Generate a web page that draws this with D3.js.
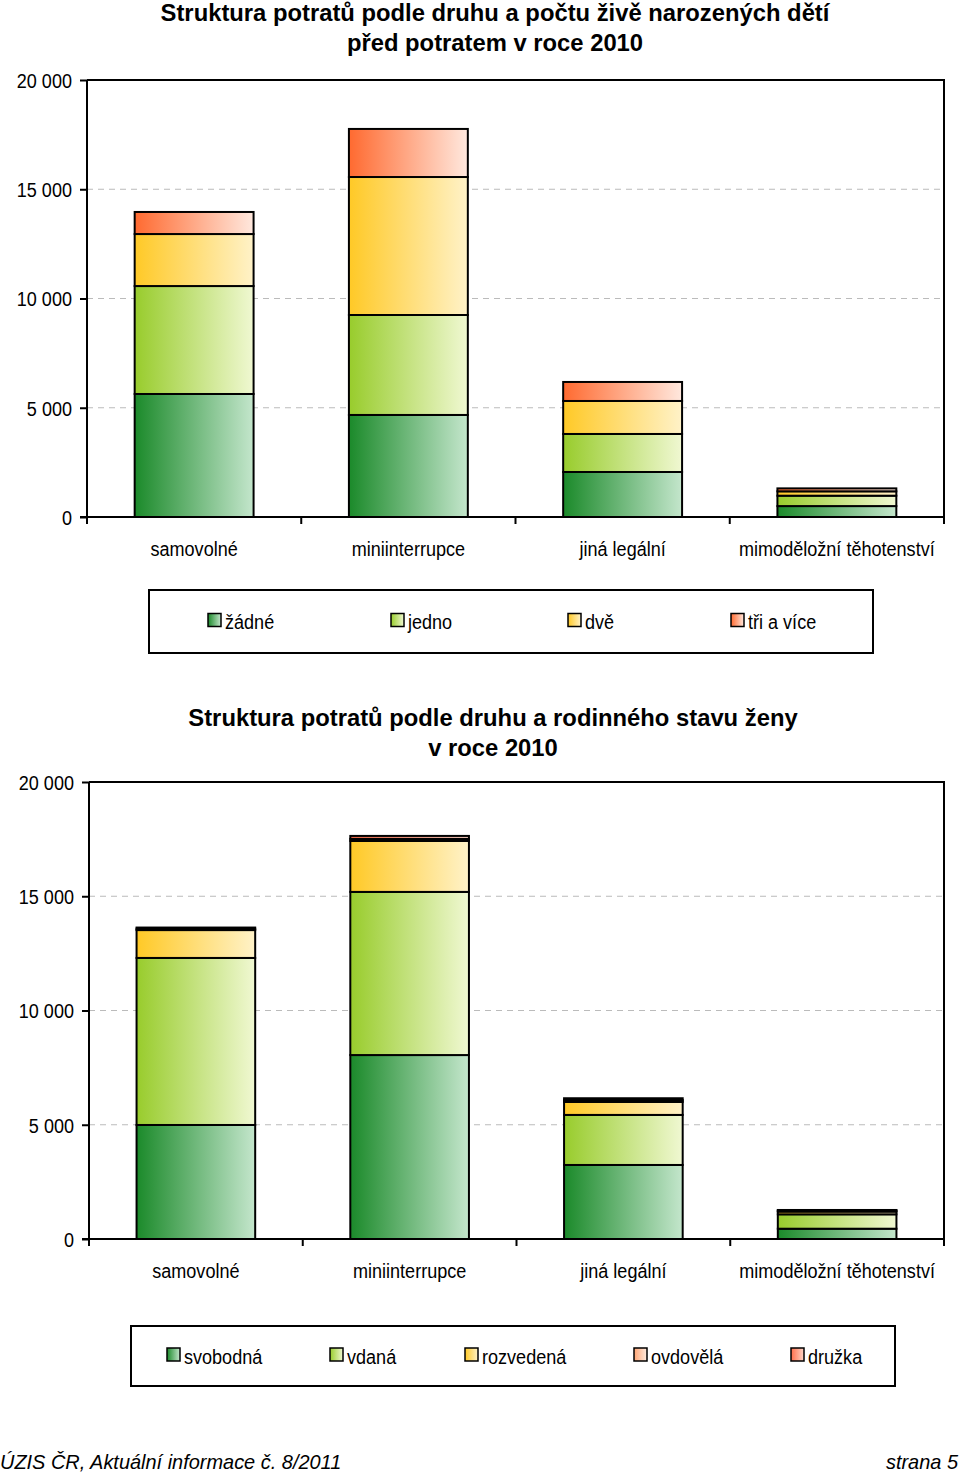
<!DOCTYPE html>
<html><head><meta charset="utf-8">
<script src="https://cdnjs.cloudflare.com/ajax/libs/d3/7.8.5/d3.min.js"></script>
<style>
body{margin:0;background:#fff;}
svg{display:block;}
</style></head>
<body>
<script>
const categories = ["samovolné", "miniinterrupce", "jiná legální", "mimoděložní těhotenství"];
const yTicks = [0, 5000, 10000, 15000, 20000];

// Chart 1: number of live-born children
const series1 = ["žádné", "jedno", "dvě", "tři a více"];
const zadne = [5630, 4670, 2060, 500];
const jedno = [4940, 4575, 1740, 475];
const dve   = [2380, 6315, 1510, 200];
const triAVice = [1010, 2200, 870, 135];

// Chart 2: marital status
const series2 = ["svobodná", "vdaná", "rozvedená", "ovdovělá", "družka"];
const svobodna = [4990, 8050, 3240, 450];
const vdana    = [7310, 7140, 2190, 630];
const rozvedena= [1220, 2230, 570, 120];
const ovdovela = [60, 90, 80, 40];
const druzka   = [50, 130, 80, 30];

const title1 = ["Struktura potratů podle druhu a počtu živě narozených dětí", "před potratem v roce 2010"];
const title2 = ["Struktura potratů podle druhu a rodinného stavu ženy", "v roce 2010"];

const W = 960, H = 1474;
const svg = d3.select("body").append("svg").attr("width", W).attr("height", H);
const defs = svg.append("defs");
const SANS = "'Liberation Sans',Arial,sans-serif";
const FS = 21, SX = 0.86;

// horizontally condense a text element around its own x anchor
function condense(sel, s) {
  sel.each(function() {
    const t = d3.select(this);
    const tx = +t.attr("x") || 0;
    t.attr("transform", `translate(${tx},0) scale(${s},1) translate(${-tx},0)`);
  });
}

const gradSpecs = {
  g0: ["#1b8a2a", "#c4e6cc"],
  g1: ["#98cc2c", "#f0f8d2"],
  g2: ["#ffc926", "#fff2c8"],
  g3: ["#ff6a30", "#ffe8de"],
  g4: ["#ffa574", "#ffece0"],
  g5: ["#ff6e4a", "#ffd6c8"]
};
Object.entries(gradSpecs).forEach(([id, [a, b]]) => {
  const g = defs.append("linearGradient").attr("id", id).attr("x1", 0).attr("x2", 1).attr("y1", 0).attr("y2", 0);
  g.append("stop").attr("offset", 0).attr("stop-color", a);
  g.append("stop").attr("offset", 1).attr("stop-color", b);
});

function drawChart(cfg) {
  const g = svg.append("g");
  const x = d3.scaleBand().domain(categories).range([cfg.left, cfg.right]).paddingInner(0.445).paddingOuter(0.2225);
  const xb = d3.scaleBand().domain(categories).range([cfg.left, cfg.right]);
  const y = d3.scaleLinear().domain([0, 20000]).range([cfg.bottom, cfg.top]);

  // titles
  cfg.title.forEach((t, i) => {
    g.append("text").attr("x", cfg.titleX).attr("y", cfg.titleY + i * 30)
      .attr("text-anchor", "middle").attr("font-family", SANS).attr("font-weight", "bold")
      .attr("font-size", 23).attr("fill", "#000").text(t)
      .call(condense, 1.035);
  });

  // gridlines
  g.selectAll(".grid").data(yTicks.filter(d => d > 0 && d < 20000)).join("line")
    .attr("x1", cfg.left).attr("x2", cfg.right).attr("y1", d => y(d)).attr("y2", d => y(d))
    .attr("stroke", "#bbb").attr("stroke-dasharray", "6,5").attr("stroke-width", 1);

  // border top/right
  g.append("path").attr("d", `M${cfg.left},${cfg.top}H${cfg.right}V${cfg.bottom}`)
    .attr("fill", "none").attr("stroke", "#000").attr("stroke-width", 2);

  // stacked bars
  const rows = categories.map((c, i) => {
    const o = {cat: c};
    cfg.series.forEach((s, k) => o[s] = cfg.values[k][i]);
    return o;
  });
  const stack = d3.stack().keys(cfg.series)(rows);
  stack.forEach((layer, k) => {
    g.selectAll(null).data(layer).join("rect")
      .attr("x", d => x(d.data.cat)).attr("width", x.bandwidth())
      .attr("y", d => y(d[1])).attr("height", d => y(d[0]) - y(d[1]))
      .attr("fill", `url(#${cfg.grads[k]})`).attr("stroke", "#000").attr("stroke-width", 2);
  });

  // y axis
  const ya = d3.axisLeft(y).tickValues(yTicks).tickSize(7).tickPadding(8)
    .tickFormat(d => d3.format(",")(d).replace(/,/g, " "));
  const yg = g.append("g").attr("transform", `translate(${cfg.left},0)`).call(ya);
  yg.select(".domain").attr("stroke", "#000").attr("stroke-width", 2).attr("d", `M0,${cfg.top}V${cfg.bottom}`);
  yg.selectAll(".tick line").attr("stroke", "#000").attr("stroke-width", 2);
  yg.selectAll("text").attr("font-family", SANS).attr("font-size", FS).attr("fill", "#000").attr("dy", "0.35em")
    .call(condense, SX);

  // x axis
  const xa = d3.axisBottom(xb).tickSize(0).tickPadding(24);
  const xg = g.append("g").attr("transform", `translate(0,${cfg.bottom})`).call(xa);
  xg.select(".domain").attr("stroke", "#000").attr("stroke-width", 2).attr("d", `M${cfg.left - 7},0H${cfg.right}`);
  xg.selectAll("text").attr("font-family", SANS).attr("font-size", FS).attr("fill", "#000").call(condense, SX);
  // category boundary ticks
  const bounds = categories.map(c => xb(c)).concat([cfg.right]);
  g.selectAll(null).data(bounds).join("line")
    .attr("x1", d => d).attr("x2", d => d).attr("y1", cfg.bottom).attr("y2", cfg.bottom + 7)
    .attr("stroke", "#000").attr("stroke-width", 2);

  // legend
  g.append("rect").attr("x", cfg.leg.x).attr("y", cfg.leg.y).attr("width", cfg.leg.w).attr("height", cfg.leg.h)
    .attr("fill", "#fff").attr("stroke", "#000").attr("stroke-width", 2);
  cfg.series.forEach((s, k) => {
    const lx = cfg.leg.items[k], ly = cfg.leg.y + cfg.leg.h / 2;
    g.append("rect").attr("x", lx).attr("y", ly - 8).attr("width", 13).attr("height", 13)
      .attr("fill", `url(#${cfg.grads[k]})`).attr("stroke", "#000").attr("stroke-width", 1.5);
    g.append("text").attr("x", lx + 17).attr("y", ly + 8).attr("font-family", SANS)
      .attr("font-size", FS).attr("fill", "#000").text(s).call(condense, SX);
  });
}

drawChart({
  title: title1, titleX: 495, titleY: 21,
  left: 87, right: 944, top: 80, bottom: 517,
  series: series1, values: [zadne, jedno, dve, triAVice], grads: ["g0", "g1", "g2", "g3"],
  leg: {x: 149, y: 590, w: 724, h: 63, items: [208, 391, 568, 731]}
});
drawChart({
  title: title2, titleX: 493, titleY: 726,
  left: 89, right: 944, top: 782, bottom: 1239,
  series: series2, values: [svobodna, vdana, rozvedena, ovdovela, druzka], grads: ["g0", "g1", "g2", "g4", "g5"],
  leg: {x: 131, y: 1326, w: 764, h: 60, items: [167, 330, 465, 634, 791]}
});

// footer
svg.append("text").attr("x", 0).attr("y", 1469).attr("font-family", SANS).attr("font-style", "italic")
  .attr("font-size", FS).attr("fill", "#000").text("ÚZIS ČR, Aktuální informace č. 8/2011").call(condense, 0.95);
svg.append("text").attr("x", 958).attr("y", 1469).attr("text-anchor", "end").attr("font-family", SANS)
  .attr("font-style", "italic").attr("font-size", FS).attr("fill", "#000").text("strana 5").call(condense, 0.95);
</script>
</body></html>
